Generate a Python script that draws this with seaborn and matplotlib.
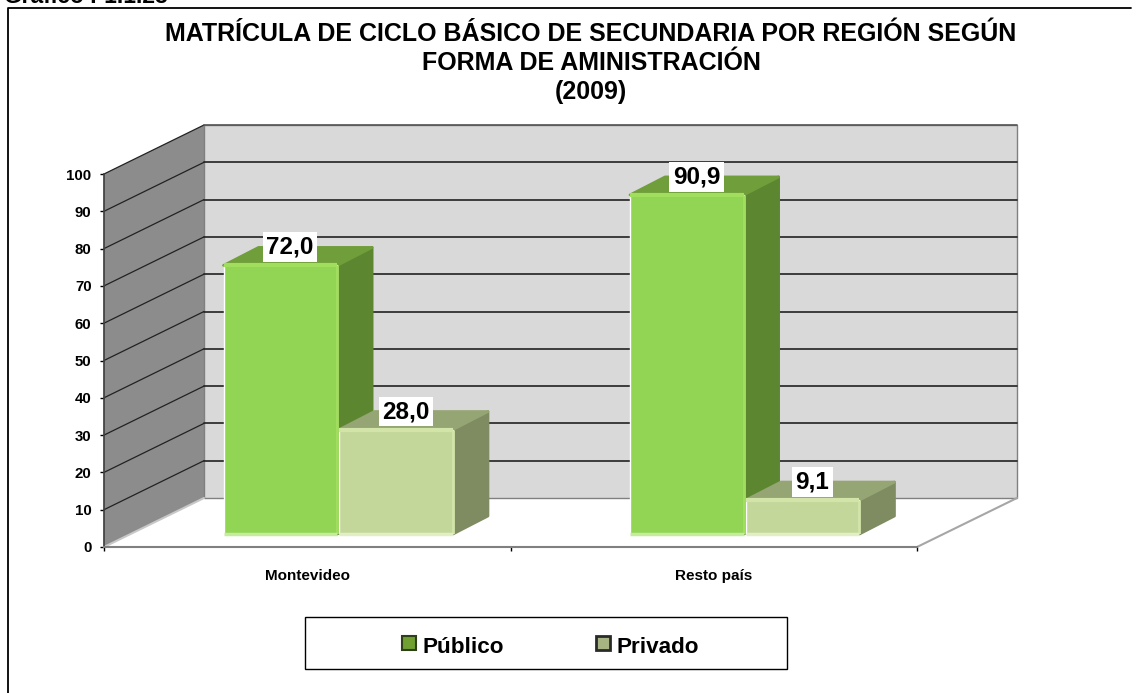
import matplotlib
matplotlib.use('Agg')
import matplotlib.pyplot as plt
from matplotlib.patches import Polygon, Rectangle
import seaborn as sns
import pandas as pd

regiones = ['Montevideo', 'Resto país']
publico = [72.0, 90.9]
privado = [28.0, 9.1]
etiquetas_pub = ['72,0', '90,9']
etiquetas_pri = ['28,0', '9,1']
ticks_y = [0, 10, 20, 30, 40, 50, 60, 70, 80, 90, 100]

W, H = 1139, 693

colores = {'Público': '#92D454', 'Privado': '#C4D79B'}
tapa = {'Público': '#709E3A', 'Privado': '#95A573'}
lado = {'Público': '#5C8730', 'Privado': '#7F8B60'}
brillo = {'Público': '#A2DE5E', 'Privado': '#D2E4A8'}
brillo_base = {'Público': '#C4EC9C', 'Privado': '#E2EFC4'}


def caja(x0, y0, x1, y1):
    # posicion en pixeles (origen arriba) a fraccion de figura
    return [x0 / W, 1 - y1 / H, (x1 - x0) / W, (y1 - y0) / H]


df = pd.DataFrame({
    'region': regiones * 2,
    'forma': ['Público'] * 2 + ['Privado'] * 2,
    'valor': publico + privado,
})

sns.set_theme(style='white')
plt.rcParams['font.family'] = ['Liberation Sans', 'DejaVu Sans']
plt.rcParams['font.weight'] = 'bold'

fig = plt.figure(figsize=(W / 100, H / 100), dpi=100)

# marco exterior: solo arriba e izquierda
fig.add_artist(plt.Line2D([8 / W, 8 / W, 1131 / W], [0, 1 - 8 / H, 1 - 8 / H], color='black', lw=1.3,
                          transform=fig.transFigure))
fig.text(4 / W, 1 - 3 / H, 'Gráfico I-1.1.23', fontsize=16.5, fontweight='bold',
         color='black', va='baseline')

# plano frontal: ejes reales
ax = fig.add_axes(caja(104, 174, 917, 547))
ax.patch.set_alpha(0)
ax.set_xlim(-0.5, 1.5)
ax.set_ylim(0, 100)

# profundidad de la pared (100 px, 49 px)
prof_x = 100 / 406.5
prof_y = 49 / 3.73

# pared izquierda, pared del fondo y piso
ax.add_patch(Polygon([(-0.5, 0), (-0.5 + prof_x, prof_y), (-0.5 + prof_x, 100 + prof_y), (-0.5, 100)],
                     fc='#8C8C8C', ec='none', zorder=0, clip_on=False))
ax.add_patch(Rectangle((-0.5 + prof_x, prof_y), 2, 100, fc='#D9D9D9', ec='#808080', lw=1,
                       zorder=0, clip_on=False))
ax.plot([1.5, 1.5 + prof_x], [0, prof_y], color='#A6A6A6', lw=1.5, zorder=1, clip_on=False)
ax.plot([-0.5, -0.5 + prof_x], [0, prof_y], color='#C8C8C8', lw=1.5, zorder=1, clip_on=False)

for t in ticks_y[1:]:
    ax.plot([-0.5, -0.5 + prof_x], [t, t + prof_y], color='#222222', lw=0.9, zorder=1, clip_on=False)
    ax.plot([-0.5 + prof_x, 1.5 + prof_x], [t + prof_y, t + prof_y],
            color='#222222' if t < 100 else '#555555', lw=1.2, zorder=1, clip_on=False)

ax.set_yticks(ticks_y)
ax.set_xticks([-0.5, 0.5, 1.5])
ax.set_xticklabels([])
ax.set_xticks([0, 1], labels=regiones, minor=True)
ax.tick_params(axis='x', which='major', length=3, width=1, color='black', bottom=True)
ax.tick_params(axis='x', which='minor', length=0, labelsize=11, pad=15.5, labelcolor='black')
ax.tick_params(axis='y', length=3, width=1, color='black', left=True, labelsize=10.8, pad=6,
               labelcolor='black')
for s in ['top', 'right']:
    ax.spines[s].set_visible(False)
ax.spines['left'].set_color('#404040')
ax.spines['bottom'].set_color('#808080')
ax.spines['bottom'].set_linewidth(1.5)
ax.set_xlabel('')
ax.set_ylabel('')

# barras, adelantadas respecto a la pared
ax2 = fig.add_axes(caja(135, 161, 948, 534))
ax2.patch.set_alpha(0)
sns.barplot(data=df, x='region', y='valor', hue='forma', order=regiones,
            hue_order=['Público', 'Privado'], palette=colores, width=0.57, gap=0.02,
            saturation=1, legend=False, ax=ax2, zorder=3)
ax2.set_xlim(-0.5, 1.5)
ax2.set_ylim(0, 100)
ax2.axis('off')

dx = 35 / 406.5
dy = 18 / 3.73
formas = ['Público', 'Público', 'Privado', 'Privado']
textos = etiquetas_pub + etiquetas_pri
for barra, forma, txt in zip(ax2.patches, formas, textos):
    x0, w, h = barra.get_x(), barra.get_width(), barra.get_height()
    x1 = x0 + w
    ax2.add_patch(Polygon([(x1, 0), (x1 + dx, dy), (x1 + dx, h + dy), (x1, h)],
                          fc=lado[forma], ec=lado[forma], lw=2, joinstyle='round', zorder=2.5, clip_on=False))
    ax2.add_patch(Polygon([(x0, h), (x0 + dx, h + dy), (x1 + dx, h + dy), (x1, h)],
                          fc=tapa[forma], ec=tapa[forma], lw=2, joinstyle='round', zorder=2.6, clip_on=False))
    # bordes claros del bisel
    ax2.plot([x0, x1], [h, h], color=brillo[forma], lw=3, zorder=4, solid_capstyle='butt')
    ax2.plot([x1, x1], [0, h], color=brillo[forma], lw=2, zorder=4, solid_capstyle='butt')
    ax2.plot([x0, x1], [0, 0], color=brillo_base[forma], lw=2.5, zorder=4, solid_capstyle='butt',
             clip_on=False)
    ax2.annotate(txt, (x0 + w / 2, h), xytext=(7, 13), textcoords='offset points',
                 ha='center', va='center', fontsize=17.5, fontweight='bold', color='black', zorder=6,
                 bbox=dict(fc='white', ec='none', pad=2.5))

# titulo
fig.text(591 / W, 1 - 22 / H, 'MATRÍCULA DE CICLO BÁSICO DE SECUNDARIA POR REGIÓN SEGÚN\n'
         'FORMA DE AMINISTRACIÓN\n(2009)', ha='center', va='top', fontsize=18, fontweight='bold',
         color='black', linespacing=1.25)

# leyenda
fig.add_artist(Rectangle((305 / W, 1 - 669 / H), 482 / W, 52 / H, fc='white', ec='black', lw=1,
                         transform=fig.transFigure))
pares = [('Público', 402, '#6FA030', '#2F3F1A', 422, 1.5), ('Privado', 596, '#A7B583', '#2A2A2A', 616, 2)]
for nombre, xc, fc, ec, xt, grosor in pares:
    fig.add_artist(Rectangle((xc / W, 1 - 650 / H), 14 / W, 14 / H, fc=fc, ec=ec, lw=grosor,
                             transform=fig.transFigure))
    fig.text(xt / W, 1 - 653 / H, nombre, fontsize=16.2, fontweight='bold', color='black', va='baseline')

fig.savefig('out.png', dpi=100)
